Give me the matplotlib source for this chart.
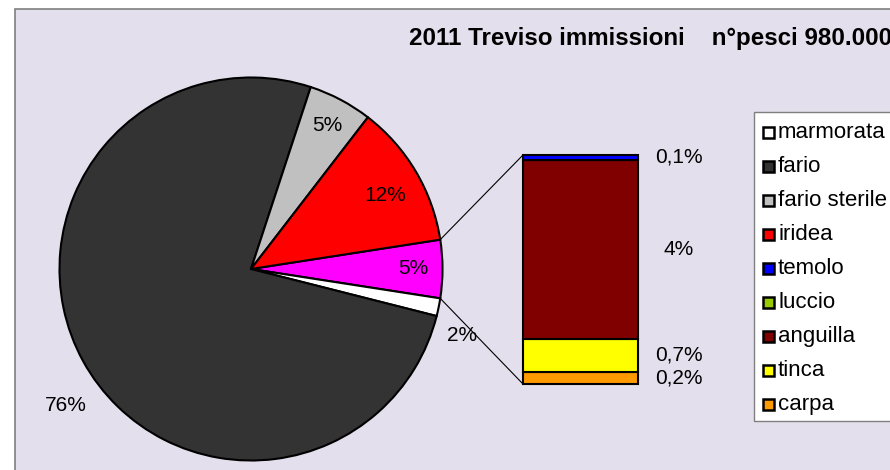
import matplotlib
matplotlib.use("Agg")
import matplotlib.pyplot as plt
from matplotlib.patches import Rectangle, ConnectionPatch
from matplotlib.transforms import blended_transform_factory
import numpy as np

plt.rcParams['font.family'] = ['Liberation Sans', 'DejaVu Sans']

# ---------------- data ----------------
title = "2011 Treviso immissioni    n°pesci 980.000"

main_names = ["marmorata", "fario", "fario sterile", "iridea"]
main_values = [1.5, 76.1, 5.4, 12.1]
main_colors = ["#FFFFFF", "#333333", "#C0C0C0", "#FF0000"]
main_labels = ["2%", "76%", "5%", "12%"]

other_color = "#FF00FF"
other_label = "5%"

bar_names = ["temolo", "luccio", "anguilla", "tinca", "carpa"]
bar_values = [0.1, 0.01, 3.83, 0.7, 0.26]
bar_colors = ["#0000FF", "#99CC00", "#800000", "#FFFF00", "#FF9900"]
bar_labels = ["0,1%", "", "4%", "0,7%", "0,2%"]

# ---------------- layout ----------------
W, H = 890, 470
def Y(y):
    return H - y

bg = "#E4DFEC"
fig = plt.figure(figsize=(W / 100, H / 100), dpi=100, facecolor="white")
ax = fig.add_axes([0, 0, 1, 1])
ax.set_facecolor("none")

other_value = sum(bar_values)
pie_values = [other_value] + main_values
pie_colors = [other_color] + main_colors
pie_labels = [other_label] + main_labels
start = 360 * other_value / sum(pie_values) / 2

cx, cy, R = 251, Y(269), 191.5
wedges, _ = ax.pie(pie_values, colors=pie_colors, startangle=start,
                   counterclock=False, center=(cx, cy), radius=R,
                   wedgeprops=dict(edgecolor="black", linewidth=1.5),
                   frame=True)

ax.set_xlim(0, W)
ax.set_ylim(0, H)
ax.set_aspect("auto")
ax.axis("off")

ax.add_patch(Rectangle((15, -10), W + 20, Y(9) + 10, facecolor=bg,
                       edgecolor="#7F7F7F", linewidth=1.2, zorder=-5))

# pie labels: (radius factor, angle offset)
label_layout = [(0.85, 0), (1.155, -5.9), (1.2, 7.5), (0.85, 0), (0.80, -2)]
for w, lab, (rf, da) in zip(wedges, pie_labels, label_layout):
    mid = np.deg2rad((w.theta1 + w.theta2) / 2 + da)
    ax.text(cx + rf * R * np.cos(mid), cy + rf * R * np.sin(mid), lab,
            ha="center", va="center", fontsize=15, color="black")

# bar of the "other" slice
bax = fig.add_axes([523 / W, Y(384) / H, 115 / W, 229 / H])
bax.set_xlim(0, 1)
bax.set_ylim(0, other_value)
bax.axis("off")
bottom = 0.0
centers = {}
for name, val, col in reversed(list(zip(bar_names, bar_values, bar_colors))):
    bax.bar(0.5, val, width=1.0, bottom=bottom, color=col, edgecolor="black",
            linewidth=1.5, clip_on=False)
    centers[name] = bottom + val / 2
    bottom += val

tr = blended_transform_factory(ax.transData, bax.transData)
for name, lab in zip(bar_names, bar_labels):
    if lab:
        ax.text(679, centers[name], lab, transform=tr, ha="center",
                va="center", fontsize=15, color="black")

# connector lines
a1 = np.deg2rad(start)
a2 = np.deg2rad(-start)
for ang, yb in [(a1, other_value), (a2, 0)]:
    con = ConnectionPatch(xyA=(cx + R * np.cos(ang), cy + R * np.sin(ang)),
                          coordsA=ax.transData, xyB=(0, yb),
                          coordsB=bax.transData, color="black", linewidth=0.8)
    fig.add_artist(con)

# title
ax.text(409, Y(45), title, ha="left", va="baseline", fontsize=17.4,
        fontweight="bold", color="black")

# legend
leg_names = main_names + bar_names
leg_colors = main_colors + bar_colors
ax.add_patch(Rectangle((754, Y(421)), 200, 421 - 112, facecolor="white",
                       edgecolor="#7F7F7F", linewidth=1.0))
for i, (n, c) in enumerate(zip(leg_names, leg_colors)):
    ry = Y(132 + i * 34.1)
    ax.add_patch(Rectangle((763, ry - 5.5), 11, 11, facecolor=c,
                           edgecolor="black", linewidth=1.8))
    ax.text(778, ry, n, ha="left", va="center", fontsize=16, color="black")

fig.savefig("out.png", dpi=100, facecolor="white")
